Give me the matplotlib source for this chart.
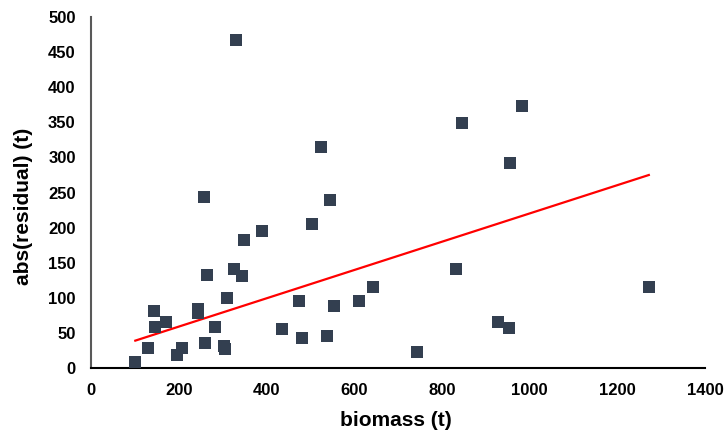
import numpy as np
import matplotlib
matplotlib.use("Agg")
import matplotlib.pyplot as plt

plt.rcParams["font.family"] = ["Liberation Sans", "DejaVu Sans"]

# biomass (t) vs abs(residual) (t)
biomass = [101, 131, 143, 146, 171, 197, 208, 243, 243, 258, 259, 264,
           282, 303, 306, 309, 326, 330, 345, 350, 391, 435, 474, 480,
           505, 525, 538, 546, 553, 611, 642, 743, 832, 845, 928, 954,
           955, 982, 1272]
abs_residual = [8, 28, 81, 58, 65, 18, 29, 84, 78, 244, 35, 133,
                59, 32, 27, 100, 141, 467, 131, 183, 195, 56, 96, 43,
                205, 315, 45, 239, 88, 96, 116, 23, 141, 349, 65, 57,
                292, 374, 115]

# fitted trend line endpoints
trend_x = [101, 1272]
trend_y = [39, 275]

x_ticks = [0, 200, 400, 600, 800, 1000, 1200, 1400]
y_ticks = [0, 50, 100, 150, 200, 250, 300, 350, 400, 450, 500]

fig = plt.figure(figsize=(7.24, 4.38), dpi=100)
ax = fig.add_axes([0.1257, 0.1598, 0.848, 0.8012])

ax.scatter(biomass, abs_residual, marker="s", s=72, color="#333f50",
           linewidths=0, zorder=3)
ax.plot(trend_x, trend_y, color="#ff0000", linewidth=1.6, zorder=2)

ax.set_xlim(0, 1400)
ax.set_ylim(0, 500)
ax.set_xticks(x_ticks)
ax.set_yticks(y_ticks)
ax.tick_params(length=0, labelsize=12, pad=11)
for lab in ax.get_xticklabels() + ax.get_yticklabels():
    lab.set_fontweight("bold")

for side in ("top", "right"):
    ax.spines[side].set_visible(False)
ax.spines["left"].set_color("#595959")
ax.spines["left"].set_linewidth(1.5)
ax.spines["bottom"].set_color("#000000")
ax.spines["bottom"].set_linewidth(1.5)

ax.set_xlabel("biomass (t)", fontsize=15, fontweight="bold")
ax.set_ylabel("abs(residual) (t)", fontsize=15, fontweight="bold")
ax.xaxis.set_label_coords(0.496, -0.122)
ax.yaxis.set_label_coords(-0.095, 0.46)

fig.savefig("out.png", dpi=100)
